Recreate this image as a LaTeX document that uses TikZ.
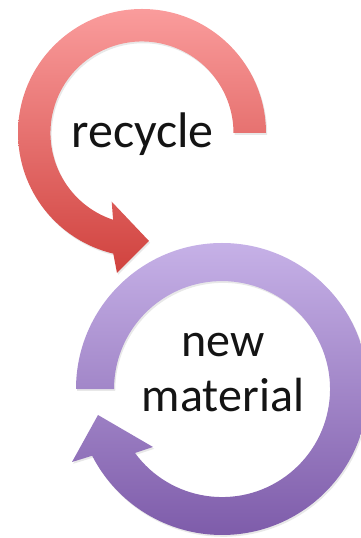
\documentclass[tikz,border=0pt]{standalone}
\usepackage{fontspec}
\setmainfont{Carlito}
\usetikzlibrary{shadows}
\definecolor{redtop}{RGB}{250,156,156}
\definecolor{redbot}{RGB}{208,66,62}
\definecolor{purtop}{RGB}{198,177,231}
\definecolor{purbot}{RGB}{126,92,170}
\definecolor{txt}{RGB}{20,20,20}
\tikzset{
  ringarrow/.style={shade, draw=none, drop shadow={opacity=0.18, shadow xshift=1.2pt, shadow yshift=-1.8pt}},
  label/.style={text=txt, inner sep=0pt, align=center}
}
\begin{document}
\begin{tikzpicture}[x=1pt,y=1pt]
\useasboundingbox (0,0) rectangle (361,538);
\clip (0,0) rectangle (361,538);
% red "recycle" arrow
\path[ringarrow, top color=redtop, bottom color=redbot]
  (266,405) arc[start angle=0, end angle=256.6, radius=124]
  -- (117,265) -- (149,297) -- (111.7,336.3)
  -- (113.1,318.2) arc[start angle=251.6, end angle=0, radius=91.5] -- cycle;
% purple "new material" arrow
\path[ringarrow, top color=purtop, bottom color=purbot]
  (76,149) arc[start angle=180, end angle=-152.8, radius=146]
  -- (72,76) -- (98,123) -- (153,91)
  -- (135,85) arc[start angle=-143.7, end angle=180, radius=108] -- cycle;
\node[label, anchor=base, font=\fontsize{50}{60}\selectfont] (recycle) at (142.5,390) {recycle};
\node[label, anchor=base, font=\fontsize{48}{54.7}\selectfont] (newmat) at (223,126.3) {new\\material};
\end{tikzpicture}
\end{document}
